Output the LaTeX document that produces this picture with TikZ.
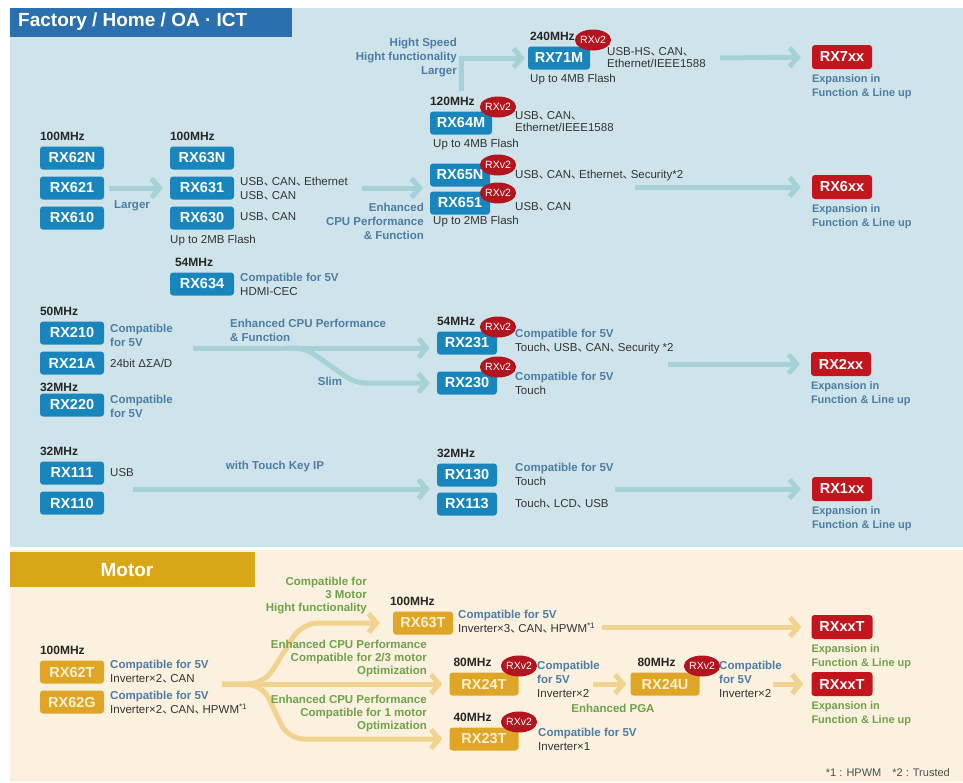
\documentclass[tikz,border=0pt]{standalone}
\usepackage{fontspec}
\setmainfont{Liberation Sans}
\newfontfamily\cjk{Noto Sans CJK JP}
\usepackage{tikz}
\usetikzlibrary{arrows.meta,positioning,calc,shapes.geometric}
\definecolor{panelblue}{HTML}{CFE4EA}
\definecolor{titleblue}{HTML}{2A70AE}
\definecolor{chipblue}{HTML}{1885BD}
\definecolor{arrblue}{HTML}{A5D2D7}
\definecolor{stblue}{HTML}{4C7DA6}
\definecolor{chipred}{HTML}{C3151D}
\definecolor{badgered}{HTML}{B3151F}
\definecolor{beige}{HTML}{FBF1DE}
\definecolor{goldbar}{HTML}{D8A717}
\definecolor{chipgold}{HTML}{DFA526}
\definecolor{goldtext}{HTML}{FBF0D0}
\definecolor{arrgold}{HTML}{F1D28F}
\definecolor{mgreen}{HTML}{6FA24C}
\definecolor{txtgray}{HTML}{333333}
\newcommand{\tc}{{\cjk 、}\kern-0.3em}
\newcommand{\cf}[1]{{\bfseries\color{stblue}#1}}

\begin{document}
\begin{tikzpicture}[
  x=1pt,y=-1pt,
  chip/.style={rounded corners=3pt,minimum width=64pt,minimum height=23pt,inner sep=0pt,text=white,font=\fontsize{14.5}{15}\selectfont\bfseries},
  bchip/.style={chip,fill=chipblue},
  rchip/.style={chip,fill=chipred,minimum width=60pt,minimum height=24pt},
  gchip/.style={chip,fill=chipgold,text=goldtext},
  rxv/.style={ellipse,fill=badgered,text=white,inner sep=0pt,minimum width=31pt,minimum height=21pt,font=\fontsize{10.5}{10}\selectfont},
  mhz/.style={anchor=south west,inner sep=0pt,yshift=5pt,text=black!85,font=\fontsize{12}{12}\selectfont\bfseries},
  spec/.style={anchor=west,inner sep=0pt,align=left,text=txtgray,font=\fontsize{11.5}{14}\selectfont},
  lbl/.style={inner sep=0pt,text=stblue,font=\fontsize{11.5}{14}\selectfont\bfseries},
  glbl/.style={lbl,text=mgreen,font=\fontsize{11.5}{13}\selectfont\bfseries},
  expn/.style={lbl,anchor=north west,align=left,yshift=-5pt,font=\fontsize{11}{14}\selectfont\bfseries},
  barr/.style={-{Straight Barb[length=8pt,width=19pt]},line width=5pt,draw=arrblue,shorten >=7pt},
  garr/.style={barr,draw=arrgold}
]
\useasboundingbox (0,0) rectangle (963,782);
\fill[white] (0,0) rectangle (963,782);
\fill[panelblue] (10,8) rectangle (963,547);
\fill[titleblue] (10,8) rectangle (292,37);
\node[anchor=west,inner sep=0pt,text=white,font=\fontsize{19}{19}\selectfont\bfseries] (ttl) at (18,22) {Factory / Home / OA · ICT};
\fill[beige] (10,550) rectangle (963,782);
\fill[goldbar] (10,552) rectangle (255,587);
\node[inner sep=0pt,text=white,font=\fontsize{19}{19}\selectfont\bfseries] (mtr) at (127,570) {Motor};

\node[bchip] (r62n) at (72,158) {RX62N};
\node[bchip] (r621) at (72,188) {RX621};
\node[bchip] (r610) at (72,218) {RX610};
\node[bchip] (r63n) at (202,158) {RX63N};
\node[bchip] (r631) at (202,188) {RX631};
\node[bchip] (r630) at (202,218) {RX630};
\node[bchip] (r634) at (202,284) {RX634};
\node[bchip,minimum width=62pt] (r64m) at (461,123) {RX64M};
\node[bchip,minimum width=60pt] (r65n) at (460,175) {RX65N};
\node[bchip,minimum width=60pt] (r651) at (460,203) {RX651};
\node[bchip,minimum width=62pt] (r71m) at (559,58) {RX71M};
\node[bchip] (r210) at (72,333) {RX210};
\node[bchip] (r21a) at (72,363) {RX21A};
\node[bchip] (r220) at (72,405) {RX220};
\node[bchip,minimum width=60pt] (r231) at (467,343) {RX231};
\node[bchip,minimum width=60pt] (r230) at (467,383) {RX230};
\node[bchip] (r111) at (72,473) {RX111};
\node[bchip] (r110) at (72,503) {RX110};
\node[bchip,minimum width=60pt] (r130) at (467,475) {RX130};
\node[bchip,minimum width=60pt] (r113) at (467,504) {RX113};
\node[rchip] (r7xx) at (842,57) {RX7xx};
\node[rchip] (r6xx) at (842,187) {RX6xx};
\node[rchip] (r2xx) at (841,364) {RX2xx};
\node[rchip] (r1xx) at (842,489) {RX1xx};

\node[gchip] (r62t) at (72,672) {RX62T};
\node[gchip] (r62g) at (72,702) {RX62G};
\node[gchip,minimum width=60pt] (r63t) at (423,623) {RX63T};
\node[gchip,minimum width=69pt] (r24t) at (484,684) {RX24T};
\node[gchip,minimum width=69pt] (r24u) at (665,684) {RX24U};
\node[gchip,minimum width=69pt] (r23t) at (484,739) {RX23T};
\node[rchip,minimum width=61pt] (rxt1) at (842,627) {RXxxT};
\node[rchip,minimum width=61pt] (rxt2) at (842,684) {RXxxT};

\foreach \n/\x/\y in {r71m/593/40,r64m/498/107,r65n/498/165,r651/498/193,r231/498/327,r230/498/367,r24t/519/666,r24u/702/666,r23t/519/722}
  \node[rxv] (v\n) at (\x,\y) {RXv2};

\coordinate (c2) at (362,188);
\coordinate (c4) at (720,58);
\coordinate (c5) at (635,187);
\coordinate (c6) at (193,348);
\coordinate (c7) at (285,348);
\coordinate (c8) at (668,364);
\coordinate (c9) at (133,489);
\coordinate (c10) at (615,489);
\coordinate (g0) at (222,684);
\coordinate (g12) at (602,627);
\coordinate (g13) at (593,684);
\coordinate (g14) at (773,684);

\draw[barr,shorten <=5pt] (r621.east) -- (r631.west);
\draw[barr] (c2) -- (c2 -| r65n.west);
\draw[barr,shorten <=20pt,shorten >=3pt] (r64m.north) |- (r71m.west);
\draw[barr] (c6) -- (c6 -| r231.west);
\draw[barr,rounded corners=10pt] (c7) -- ++(20,0) -- ++(50,35) -- (r230.west);
\draw[barr] (c9) -- (c9 -| r130.west);
\foreach \a/\b in {c4/r7xx,c5/r6xx,c8/r2xx,c10/r1xx}
  \draw[barr,shorten >=11pt] (\a) -- (\b.west);

\draw[garr] (g0) -- (g0 -| r24t.west);
\draw[garr,rounded corners=16pt,shorten >=13pt] (g0) -- ++(42,0) -- ++(38,-61) -- (r63t.west);
\draw[garr,rounded corners=16pt] (g0) -- ++(40,0) -- ++(26,55) -- (r23t.west);
\draw[garr,shorten >=4pt] (g13) -- (r24u.west);
\draw[garr,shorten >=10pt] (g12) -- (rxt1.west);
\draw[garr,shorten >=8pt] (g14) -- (rxt2.west);

\node[mhz] (m62n) at (r62n.north west) {100MHz};
\node[mhz] (m63n) at (r63n.north west) {100MHz};
\node[mhz] (m634) at ([xshift=5pt]r634.north west) {54MHz};
\node[mhz] (m64m) at (r64m.north west) {120MHz};
\node[mhz] (m71m) at ([xshift=2pt]r71m.north west) {240MHz};
\node[mhz] (m210) at (r210.north west) {50MHz};
\node[mhz,yshift=-3.5pt] (m220) at (r220.north west) {32MHz};
\node[mhz] (m231) at (r231.north west) {54MHz};
\node[mhz] (m111) at (r111.north west) {32MHz};
\node[mhz] (m130) at (r130.north west) {32MHz};
\node[mhz] (m62t) at (r62t.north west) {100MHz};
\node[mhz] (m63t) at ([xshift=-3pt]r63t.north west) {100MHz};
\node[mhz] (m24t) at ([xshift=4pt]r24t.north west) {80MHz};
\node[mhz] (m24u) at ([xshift=7pt]r24u.north west) {80MHz};
\node[mhz] (m23t) at ([xshift=4pt]r23t.north west) {40MHz};

\node[spec] (s631) at (240,189) {USB\tc CAN\tc Ethernet\\USB\tc CAN};
\node[spec] (s630) at (240,217) {USB\tc CAN};
\node[spec] (f63x) at (170,241) {Up to 2MB Flash};
\node[spec] (s634) at (240,284) {\cf{Compatible for 5V}\\HDMI-CEC};
\node[spec,font=\fontsize{11.5}{12}\selectfont] (s64m) at (515,122) {USB\tc CAN\tc\\Ethernet/IEEE1588};
\node[spec] (f64m) at (433,145) {Up to 4MB Flash};
\node[spec,font=\fontsize{11.5}{12}\selectfont] (s71m) at (607,58) {USB-HS\tc CAN\tc\\Ethernet/IEEE1588};
\node[spec] (f71m) at (530,80) {Up to 4MB Flash};
\node[spec] (s65n) at (515,176) {USB\tc CAN\tc Ethernet\tc Security*2};
\node[spec] (s651) at (515,207) {USB\tc CAN};
\node[spec] (f65x) at (433,222) {Up to 2MB Flash};
\node[spec] (s210) at (110,335) {\cf{Compatible}\\\cf{for 5V}};
\node[spec] (s21a) at (110,363) {24bit ΔΣA/D};
\node[spec] (s220) at (110,406) {\cf{Compatible}\\\cf{for 5V}};
\node[spec] (s231) at (515,342) {\cf{Compatible for 5V}\\Touch\tc USB\tc CAN\tc Security *2};
\node[spec] (s230) at (515,383) {\cf{Compatible for 5V}\\Touch};
\node[spec] (s111) at (110,473) {USB};
\node[spec] (s130) at (515,474) {\cf{Compatible for 5V}\\Touch};
\node[spec] (s113) at (515,504) {Touch\tc LCD\tc USB};
\node[spec] (s62t) at (110,672) {\cf{Compatible for 5V}\\Inverter×2\tc CAN};
\node[spec] (s62g) at (110,703) {\cf{Compatible for 5V}\\Inverter×2\tc CAN\tc HPWM\textsuperscript{*1}};
\node[spec] (s63t) at (458,622) {\cf{Compatible for 5V}\\Inverter×3\tc CAN\tc HPWM\textsuperscript{*1}};
\node[spec] (s24t) at (537,679) {\cf{Compatible}\\\cf{for 5V}\\Inverter×2};
\node[spec] (s24u) at (719,679) {\cf{Compatible}\\\cf{for 5V}\\Inverter×2};
\node[spec] (s23t) at (538,739) {\cf{Compatible for 5V}\\Inverter×1};

\foreach \n in {r7xx,r6xx,r2xx,r1xx}
  \node[expn] (x\n) at (\n.south west) {Expansion in\\Function \& Line up};
\foreach \n in {rxt1,rxt2}
  \node[expn,text=mgreen] (x\n) at (\n.south west) {Expansion in\\Function \& Line up};

\node[lbl] (lg) at (132,206) {Larger};
\node[lbl,anchor=east,align=right] (le1) at (424,221) {Enhanced\\CPU Performance\\\& Function};
\node[lbl,anchor=east,align=right] (lhs) at (457,58) {Hight Speed\\Hight functionality\\Larger};
\node[lbl,anchor=west,align=left] (le2) at (230,330) {Enhanced CPU Performance\\\& Function};
\node[lbl] (lsl) at (330,381) {Slim};
\node[lbl] (ltk) at (275,467) {with Touch Key IP};
\node[glbl,anchor=east,align=right] (g3m) at (367,596) {Compatible for\\3 Motor\\Hight functionality};
\node[glbl,anchor=east,align=right] (g23) at (427,659) {Enhanced CPU Performance\\Compatible for 2/3 motor\\Optimization};
\node[glbl,anchor=east,align=right] (g1m) at (427,714) {Enhanced CPU Performance\\Compatible for 1 motor\\Optimization};
\node[glbl] (gpga) at (613,708) {Enhanced PGA};
\node[anchor=east,inner sep=0pt,text=black!70,font=\fontsize{11}{11}\selectfont] (fn) at (950,773) {*1 : HPWM\quad *2 : Trusted};
\end{tikzpicture}
\end{document}
